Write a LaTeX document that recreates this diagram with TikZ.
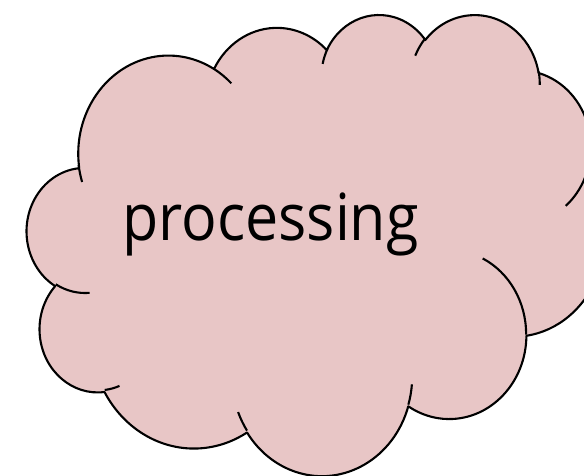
\documentclass[tikz,border=0pt]{standalone}
\usepackage{fontspec}
\newfontfamily\cloudfont{Open Sans}[FakeStretch=0.91]
\definecolor{cloudfill}{RGB}{232,198,198}
\definecolor{cloudline}{RGB}{0,0,0}

\begin{document}
\begin{tikzpicture}[
  cloudshape/.style={fill=cloudfill, draw=cloudline, line width=2.1pt, line join=round},
  cloudtick/.style={draw=cloudline, line width=2.1pt},
  label/.style={font=\cloudfont\fontsize{65}{78}\selectfont, inner sep=0pt, anchor=base},
]
\path[use as bounding box, clip] (0,0) rectangle (584pt,475pt);

% cloud outline, arcs given by visual start angle and sweep
\begin{scope}[shift={(27pt,461.5pt)}, x=1.3352pt, y=-1.0671pt]
\filldraw[cloudshape] (39.00,143.70)
  \foreach \rx/\ry/\st/\sw [evaluate=\st as \arcta using {atan2(\rx*sin(\st),\ry*cos(\st))},
      evaluate=\sw as \arctb using {\arcta+mod(mod(atan2(\rx*sin(\st+\sw),\ry*cos(\st+\sw))-\arcta,360)+360,360)}]
    in {67.53/91.90/-190.4875/123.7805, 53.33/72.67/-144.1024/89.9452,
        43.65/59.45/-145.8079/99.7230, 48.57/65.95/-130.9861/117.2417,
        53.33/72.73/-78.7089/109.0269, 67.75/92.20/-46.2673/130.2690,
        57.85/78.67/0.6250/114.0333, 67.52/92.15/22.4516/115.1726,
        77.20/105.43/66.2426/75.7110, 43.60/59.18/-274.9421/146.7356,
        43.45/59.45/-246.8285/152.5189}
    {arc[start angle=\arcta, end angle=\arctb, x radius=\rx, y radius=\ry]}
  -- cycle;

% inner ticks
\foreach \px/\py/\rx/\ry/\st/\sw [evaluate=\st as \arcta using {atan2(\rx*sin(\st),\ry*cos(\st))},
    evaluate=\sw as \arctb using {\arcta+mod(mod(atan2(\rx*sin(\st+\sw),\ry*cos(\st+\sw))-\arcta,360)+360,360)}]
  in {46.93/261.77/43.45/59.45/86.742/26.4295,
      69.28/348.99/43.60/59.18/73.6105/11.4475,
      164.78/390.90/67.52/92.15/137.6242/14.0811,
      288.27/347.51/67.52/92.15/6.4533/15.9984,
      341.29/229.54/57.85/78.67/-70.2924/70.9174,
      417.98/153.54/53.33/72.73/30.3180/27.7515,
      383.24/54.26/48.57/65.95/-13.7443/14.8589,
      290.78/39.52/48.57/65.95/-149.1815/18.1954,
      221.41/47.20/43.65/59.45/-163.4943/17.6864,
      140.00/51.92/67.53/91.90/-66.7070/12.3194,
      41.27/157.89/67.53/91.90/156.6225/13.5515}
  \draw[cloudtick] (\px,\py) arc[start angle=\arcta, end angle=\arctb, x radius=\rx, y radius=\ry];
\end{scope}

\node[label] (proc) at (270.5pt,235pt) {processing};
\end{tikzpicture}
\end{document}
